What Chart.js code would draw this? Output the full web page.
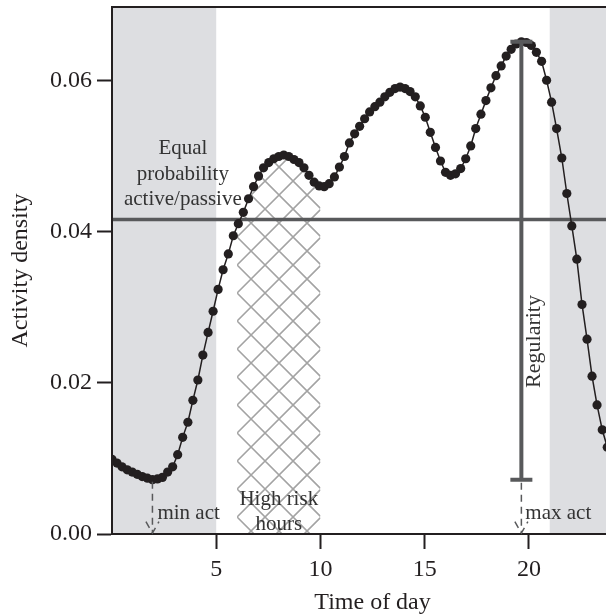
<!DOCTYPE html>
<html>
<head>
<meta charset="utf-8">
<script src="https://cdn.jsdelivr.net/npm/chart.js@4.4.0/dist/chart.umd.min.js"></script>
<style>
  html, body { margin: 0; padding: 0; background: #fff; }
  canvas { display: block; }
</style>
</head>
<body>
<canvas id="chart" width="606" height="616"></canvas>
<script>
// time of day (hours) and activity density
const hours = [
  0.00, 0.24, 0.48, 0.73, 0.97, 1.21, 1.45, 1.70, 1.94, 2.18,
  2.42, 2.67, 2.91, 3.15, 3.39, 3.64, 3.88, 4.12, 4.36, 4.61,
  4.85, 5.09, 5.33, 5.58, 5.82, 6.06, 6.30, 6.55, 6.79, 7.03,
  7.27, 7.52, 7.76, 8.00, 8.24, 8.48, 8.73, 8.97, 9.21, 9.45,
  9.70, 9.94, 10.18, 10.42, 10.67, 10.91, 11.15, 11.39, 11.64, 11.88,
  12.12, 12.36, 12.61, 12.85, 13.09, 13.33, 13.58, 13.82, 14.06, 14.30,
  14.55, 14.79, 15.03, 15.27, 15.52, 15.76, 16.00, 16.24, 16.48, 16.73,
  16.97, 17.21, 17.45, 17.70, 17.94, 18.18, 18.42, 18.67, 18.91, 19.15,
  19.39, 19.64, 19.88, 20.12, 20.36, 20.61, 20.85, 21.09, 21.33, 21.58,
  21.82, 22.06, 22.30, 22.55, 22.79, 23.03, 23.27, 23.52, 23.76, 24.00
];
const density = [
  0.0099, 0.0094, 0.0089, 0.0085, 0.0082, 0.0079, 0.0076, 0.0074, 0.0072, 0.0073,
  0.0075, 0.0082, 0.0089, 0.0105, 0.0128, 0.0148, 0.0177, 0.0204, 0.0237, 0.0267,
  0.0295, 0.0324, 0.0350, 0.0371, 0.0395, 0.0411, 0.0426, 0.0444, 0.0460, 0.0474,
  0.0485, 0.0492, 0.0497, 0.0500, 0.0502, 0.0500, 0.0496, 0.0492, 0.0485, 0.0475,
  0.0466, 0.0461, 0.0460, 0.0464, 0.0473, 0.0486, 0.0500, 0.0518, 0.0530, 0.0540,
  0.0550, 0.0559, 0.0566, 0.0572, 0.0579, 0.0585, 0.0590, 0.0592, 0.0590, 0.0586,
  0.0579, 0.0567, 0.0552, 0.0532, 0.0512, 0.0494, 0.0479, 0.0475, 0.0477, 0.0484,
  0.0497, 0.0514, 0.0537, 0.0556, 0.0574, 0.0591, 0.0607, 0.0620, 0.0633, 0.0642,
  0.0649, 0.0652, 0.0651, 0.0647, 0.0638, 0.0626, 0.0601, 0.0572, 0.0537, 0.0498,
  0.0451, 0.0408, 0.0364, 0.0304, 0.0258, 0.0209, 0.0171, 0.0138, 0.0115, 0.0100
];

const xTicks = [5, 10, 15, 20];
const xTickLabels = ['5', '10', '15', '20'];
const yTicks = [0, 0.02, 0.04, 0.06];
const yTickLabels = ['0.00', '0.02', '0.04', '0.06'];

const restSpans = [[0, 5], [21, 24]];   // grey bands
const riskSpan = [6, 10];               // hatched "high risk hours"
const equalLevel = 1 / 24;              // equal probability active/passive

const SERIF = "'Liberation Serif', 'Times New Roman', serif";
const INK = '#231f20';
const LINE = '#58595b';
const TEXT = '#333333';

const iMin = density.indexOf(Math.min(...density));
const iMax = density.indexOf(Math.max(...density));

function dashedArrow(ctx, px, yTop, yBot) {
  ctx.save();
  ctx.strokeStyle = LINE;
  ctx.lineWidth = 1.5;
  ctx.setLineDash([7, 5]);
  ctx.beginPath();
  ctx.moveTo(px, yTop);
  ctx.lineTo(px, yBot);
  ctx.stroke();
  const len = 13, ang = Math.PI / 6;
  ctx.beginPath();
  ctx.moveTo(px - len * Math.sin(ang), yBot - len * Math.cos(ang));
  ctx.lineTo(px, yBot);
  ctx.lineTo(px + len * Math.sin(ang), yBot - len * Math.cos(ang));
  ctx.stroke();
  ctx.restore();
}

const decorations = {
  id: 'decorations',
  beforeDraw(chart) {
    const { ctx, chartArea: a, scales: { x, y } } = chart;
    const y0 = y.getPixelForValue(0);
    ctx.save();
    ctx.beginPath();
    ctx.rect(a.left, a.top, a.right - a.left, a.bottom - a.top);
    ctx.clip();

    // grey bands
    ctx.fillStyle = '#dddee1';
    restSpans.forEach(([s, e]) => {
      const l = x.getPixelForValue(s), r = x.getPixelForValue(e);
      ctx.fillRect(l, a.top, r - l, a.bottom - a.top);
    });

    // hatch under the curve
    const pts = chart.getDatasetMeta(0).data;
    const hl = x.getPixelForValue(riskSpan[0]);
    const hr = x.getPixelForValue(riskSpan[1]);
    ctx.save();
    ctx.beginPath();
    ctx.rect(hl, a.top, hr - hl, a.bottom - a.top);
    ctx.clip();
    ctx.beginPath();
    ctx.moveTo(pts[0].x, y0);
    pts.forEach(p => ctx.lineTo(p.x, p.y));
    ctx.lineTo(pts[pts.length - 1].x, y0);
    ctx.closePath();
    ctx.clip();
    ctx.strokeStyle = '#a3a3a3';
    ctx.lineWidth = 1.6;
    const step = 28, w = hr - hl;
    ctx.beginPath();
    for (let k = -25; k < 25; k++) {
      const c = y0 - 17 - k * step;
      ctx.moveTo(hl, c); ctx.lineTo(hr, c + w);
      ctx.moveTo(hl, c); ctx.lineTo(hr, c - w);
    }
    ctx.stroke();
    ctx.restore();

    // equal probability line
    const ye = y.getPixelForValue(equalLevel);
    ctx.strokeStyle = LINE;
    ctx.lineWidth = 3.5;
    ctx.beginPath();
    ctx.moveTo(a.left, ye);
    ctx.lineTo(a.right, ye);
    ctx.stroke();
    ctx.restore();
  },
  afterDatasetsDraw(chart) {
    const { ctx, chartArea: a, scales: { x, y } } = chart;
    const y0 = y.getPixelForValue(0);

    // box top
    ctx.save();
    ctx.strokeStyle = INK;
    ctx.lineWidth = 2;
    ctx.beginPath();
    ctx.moveTo(a.left - 1, a.top);
    ctx.lineTo(a.right, a.top);
    ctx.stroke();

    // regularity bar
    const xm = x.getPixelForValue(hours[iMax]);
    const yHi = y.getPixelForValue(density[iMax]);
    const yLo = y.getPixelForValue(density[iMin]);
    ctx.strokeStyle = LINE;
    ctx.lineWidth = 4;
    ctx.beginPath();
    ctx.moveTo(xm, yHi); ctx.lineTo(xm, yLo);
    ctx.moveTo(xm - 11, yHi); ctx.lineTo(xm + 11, yHi);
    ctx.moveTo(xm - 11, yLo); ctx.lineTo(xm + 11, yLo);
    ctx.stroke();
    ctx.restore();

    // min / max arrows
    const xn = x.getPixelForValue(hours[iMin]);
    dashedArrow(ctx, xn, y.getPixelForValue(density[iMin]) + 2, y0 - 1);
    dashedArrow(ctx, xm, yLo + 3, y0 - 1);

    ctx.save();
    ctx.fillStyle = TEXT;
    ctx.font = '21px ' + SERIF;
    ctx.textBaseline = 'alphabetic';

    ctx.textAlign = 'left';
    ctx.fillText('min act', xn + 5, y.getPixelForValue(0.00205));
    ctx.fillText('max act', xm + 4, y.getPixelForValue(0.00205));

    ctx.textAlign = 'center';
    const xe = x.getPixelForValue(3.4);
    ctx.fillText('Equal', xe, y.getPixelForValue(0.0503));
    ctx.fillText('probability', xe, y.getPixelForValue(0.0469));
    ctx.fillText('active/passive', xe, y.getPixelForValue(0.0436));

    const xr = x.getPixelForValue((riskSpan[0] + riskSpan[1]) / 2);
    ctx.fillText('High risk', xr, y.getPixelForValue(0.0038));
    ctx.fillText('hours', xr, y.getPixelForValue(0.0005));

    ctx.save();
    ctx.font = '22px ' + SERIF;
    ctx.translate(xm + 19, y.getPixelForValue(0.0255));
    ctx.rotate(-Math.PI / 2);
    ctx.fillText('Regularity', 0, 0);
    ctx.restore();

    // axis titles
    ctx.fillStyle = INK;
    ctx.font = '24px ' + SERIF;
    ctx.fillText('Time of day', x.getPixelForValue(12.5), a.bottom + 75);
    ctx.translate(27, (a.top + a.bottom) / 2);
    ctx.rotate(-Math.PI / 2);
    ctx.fillText('Activity density', 0, 0);
    ctx.restore();
  }
};

const axisGrid = {
  display: true,
  drawOnChartArea: false,
  drawTicks: true,
  tickLength: 15,
  tickWidth: 2,
  tickColor: INK
};

new Chart(document.getElementById('chart').getContext('2d'), {
  type: 'line',
  data: {
    datasets: [{
      data: hours.map((h, i) => ({ x: h, y: density[i] })),
      borderColor: INK,
      borderWidth: 1.5,
      pointRadius: 4.6,
      pointBorderWidth: 0,
      pointBackgroundColor: INK,
      fill: false,
      tension: 0
    }]
  },
  options: {
    responsive: false,
    animation: false,
    layout: { autoPadding: false, padding: { top: 7, right: 0, bottom: 0, left: 0 } },
    plugins: { legend: { display: false }, tooltip: { enabled: false } },
    scales: {
      x: {
        type: 'linear',
        min: 0,
        max: 23.7,
        afterBuildTicks: s => { s.ticks = xTicks.map(v => ({ value: v })); },
        afterFit: s => { s.height = 82; s.paddingLeft = 0; s.paddingRight = 0; },
        ticks: {
          autoSkip: false, maxRotation: 0, padding: 6, color: INK,
          font: { family: SERIF, size: 24 },
          callback: (v, i) => xTickLabels[i]
        },
        grid: axisGrid,
        border: { display: true, color: INK, width: 2 }
      },
      y: {
        type: 'linear',
        min: 0,
        max: 0.0698,
        afterBuildTicks: s => { s.ticks = yTicks.map(v => ({ value: v })); },
        afterFit: s => { s.width = 112; s.paddingTop = 0; s.paddingBottom = 0; },
        ticks: {
          autoSkip: false, padding: 5, color: INK,
          font: { family: SERIF, size: 24 },
          callback: (v, i) => yTickLabels[i]
        },
        grid: axisGrid,
        border: { display: true, color: INK, width: 2 }
      }
    }
  },
  plugins: [decorations]
});
</script>
</body>
</html>
